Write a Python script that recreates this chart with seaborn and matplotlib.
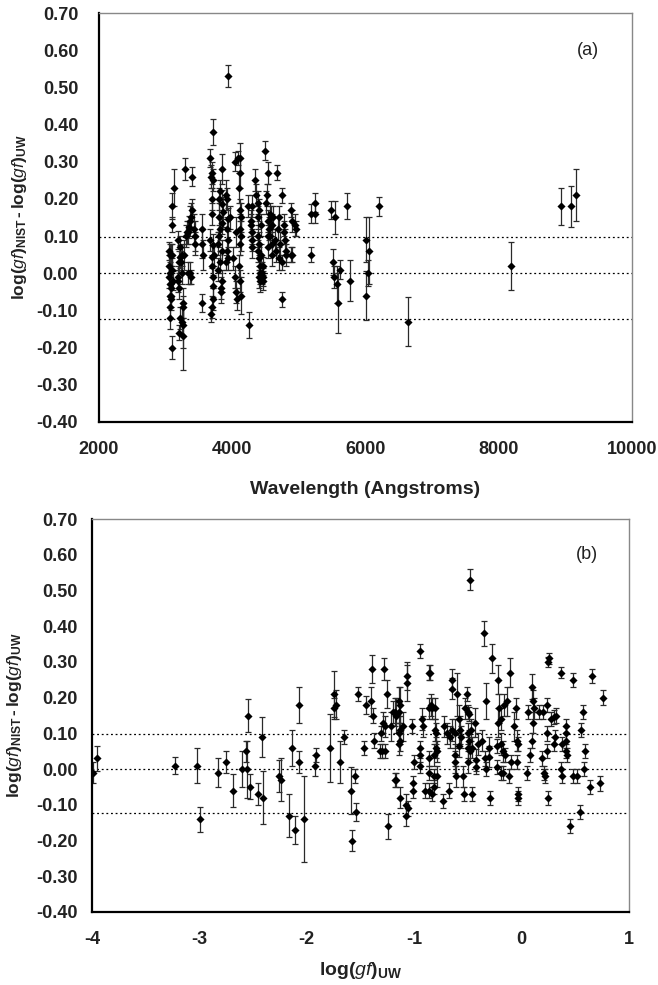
import matplotlib
matplotlib.use("Agg")
import matplotlib.pyplot as plt
import seaborn as sns
import numpy as np

# ---------------- data: panel (a) ----------------
wl_a = [
    3050, 3065, 3080, 3045, 3060, 3055, 3070, 3080, 3065, 3075, 3060, 3068, 3090, 3091, 3126, 3091, 3100, 3095, 3110, 3085,
    3190, 3215, 3210, 3200, 3190, 3185, 3205, 3266, 3216, 3240, 3255, 3200, 3265, 3250, 3270, 3230, 3240, 3295, 3255,
    3302, 3320, 3340, 3355, 3366, 3380, 3401, 3401, 3420, 3440, 3440, 3366, 3380, 3330,
    3542, 3550, 3557, 3542,
    3705, 3667, 3690, 3680, 3707, 3700, 3695, 3667, 3710, 3690, 3700, 3710, 3710, 3715, 3700, 3680, 3720,
    3842, 3800, 3842, 3860, 3800, 3842, 3810, 3790, 3842, 3810, 3790, 3842, 3825, 3830, 3820, 3800,
    3935, 3917, 3942, 3917, 3942, 3917, 3942, 3900, 3910, 3960,
    4010, 4042, 4080, 4117, 4110, 4100, 4120, 4125, 4115, 4130, 4120, 4045, 4050, 4070, 4125, 4110, 4100, 4060,
    4242, 4245, 4275, 4285, 4300, 4290, 4300, 4300, 4335, 4353, 4380, 4400, 4380, 4390, 4400, 4390, 4400, 4410, 4420, 4400,
    4415, 4460, 4465, 4455, 4430, 4445, 4435,
    4495, 4535, 4540, 4555, 4570, 4600, 4590, 4540, 4540, 4610, 4600, 4520, 4510, 4560, 4575,
    4665, 4640, 4655, 4750, 4745, 4715, 4700, 4770, 4780, 4795, 4810, 4800, 4750, 4875, 4900, 4885, 4900, 4940, 4950, 4680,
    4700,
    5185, 5235, 5245, 5185, 5475, 5540, 5720, 6200, 5510, 5520, 5570, 5590, 5620, 5765, 6000, 6060, 6045, 6015,
    6635, 8186, 8927, 9082, 9157,
]
diff_a = [
    0.06, 0.05, 0.05, 0.02, 0.00, -0.01, -0.03, -0.04, -0.06, -0.07, -0.09, -0.12, -0.20, 0.18, 0.23, 0.13, 0.05, 0.01, -0.02, -0.06,
    0.09, 0.07, 0.045, 0.03, -0.01, -0.02, -0.04, -0.08, -0.12, -0.13, -0.14, -0.16, -0.17, 0.05, 0.05, 0.03, 0.00, 0.28, -0.09,
    0.10, 0.11, 0.11, 0.125, 0.14, 0.15, 0.17, 0.26, 0.12, 0.10, 0.08, 0.00, -0.01, 0.00,
    0.12, 0.08, 0.05, -0.08,
    0.38, 0.31, 0.27, 0.26, 0.25, 0.20, 0.16, 0.09, 0.075, 0.045, 0.02, -0.01, -0.035, -0.07, -0.09, -0.11, 0.05,
    0.28, 0.20, 0.185, 0.165, 0.15, 0.135, 0.12, 0.08, 0.06, 0.03, 0.01, -0.02, -0.04, -0.05, 0.22, 0.10,
    0.53, 0.20, 0.145, 0.12, 0.09, 0.06, 0.04, 0.21, 0.03, 0.15,
    0.04, 0.30, 0.31, 0.31, 0.27, 0.23, 0.17, 0.15, 0.12, 0.10, 0.08, -0.01, -0.05, -0.07, -0.06, -0.02, 0.02, 0.11,
    0.18, -0.14, 0.14, 0.13, 0.11, 0.09, 0.07, 0.18, 0.25, 0.21, 0.19, 0.17, 0.15, 0.10, 0.08, 0.06, 0.04, 0.02, 0.00, -0.01,
    -0.02, 0.02, -0.01, -0.02, 0.05, 0.00, 0.13,
    0.33, 0.27, 0.14, 0.12, 0.10, 0.08, 0.05, 0.10, 0.07, 0.15, 0.13, 0.21, 0.19, 0.16, 0.15,
    0.27, 0.09, 0.06, 0.21, -0.07, 0.08, 0.04, 0.13, 0.11, 0.09, 0.06, 0.05, 0.03, 0.05, 0.05, 0.17, 0.14, 0.13, 0.12, 0.12,
    0.15,
    0.16, 0.19, 0.16, 0.05, 0.17, 0.15, 0.18, 0.18, 0.03, -0.01, -0.03, -0.08, 0.01, -0.02, 0.09, 0.06, 0.00, -0.06,
    -0.13, 0.02, 0.18, 0.18, 0.21,
]
err_a = [
    0.025, 0.03, 0.03, 0.03, 0.03, 0.03, 0.03, 0.025, 0.03, 0.03, 0.03, 0.03, 0.03, 0.035, 0.05, 0.02, 0.03, 0.03, 0.025, 0.03,
    0.025, 0.03, 0.03, 0.03, 0.03, 0.03, 0.03, 0.04, 0.03, 0.04, 0.06, 0.02, 0.09, 0.03, 0.04, 0.03, 0.03, 0.03, 0.03,
    0.03, 0.03, 0.03, 0.03, 0.04, 0.04, 0.03, 0.025, 0.04, 0.04, 0.03, 0.03, 0.02, 0.03,
    0.04, 0.04, 0.04, 0.025,
    0.035, 0.025, 0.03, 0.03, 0.03, 0.03, 0.03, 0.03, 0.03, 0.03, 0.03, 0.03, 0.03, 0.03, 0.03, 0.02, 0.03,
    0.04, 0.03, 0.04, 0.04, 0.04, 0.03, 0.03, 0.03, 0.03, 0.03, 0.03, 0.03, 0.03, 0.03, 0.03, 0.03,
    0.03, 0.03, 0.03, 0.03, 0.03, 0.03, 0.03, 0.04, 0.02, 0.03,
    0.03, 0.025, 0.02, 0.04, 0.04, 0.04, 0.03, 0.04, 0.04, 0.04, 0.03, 0.03, 0.03, 0.03, 0.05, 0.03, 0.03, 0.04,
    0.03, 0.035, 0.03, 0.03, 0.03, 0.03, 0.03, 0.03, 0.03, 0.03, 0.03, 0.03, 0.03, 0.03, 0.03, 0.03, 0.03, 0.03, 0.03, 0.03,
    0.03, 0.025, 0.025, 0.025, 0.03, 0.03, 0.03,
    0.025, 0.03, 0.03, 0.03, 0.03, 0.03, 0.03, 0.03, 0.03, 0.03, 0.03, 0.03, 0.03, 0.03, 0.03,
    0.02, 0.03, 0.03, 0.02, 0.02, 0.03, 0.03, 0.03, 0.03, 0.03, 0.03, 0.03, 0.02, 0.02, 0.02, 0.02, 0.03, 0.03, 0.02, 0.03,
    0.03,
    0.025, 0.025, 0.025, 0.02, 0.025, 0.045, 0.035, 0.025, 0.035, 0.03, 0.05, 0.08, 0.025, 0.055, 0.06, 0.09, 0.035, 0.065,
    0.065, 0.065, 0.05, 0.055, 0.07,
]

# ---------------- data: panel (b) ----------------
gf_b = [
    -3.99, -3.95, -3.23, -3.02, -2.99, -2.83, -2.75, -2.69, -2.60, -2.57, -2.56, -2.55, -2.53, -2.45, -2.42, -2.41, -2.26, -2.24, -2.17, -2.14,
    -2.11, -2.07, -2.07, -2.03, -1.92, -1.91, -1.78, -1.75, -1.75, -1.73, -1.69, -1.65, -1.59, -1.58, -1.55, -1.54, -1.52, -1.47, -1.45, -1.40,
    -1.39, -1.38, -1.37, -1.30, -1.31, -1.29, -1.28, -1.27, -1.27, -1.25, -1.24, -1.22, -1.18, -1.17, -1.17, -1.13, -1.13, -1.13, -1.13,
    -1.32, -1.20, -1.14, -1.14, -1.10, -1.07, -1.07, -1.14, -1.14, -1.18, -1.08, -1.08, -1.06, -1.02, -1.01, -1.01, -1.00, -0.95, -0.95, -0.95,
    -0.95, -0.93, -0.92, -0.86, -0.85, -0.86, -0.86, -0.86, -0.90, -0.86, -0.81, -0.80, -0.80, -0.79,
    -0.35, -0.28, -0.22, -0.335, -0.65, -0.65, -0.60, -0.51, -0.84, -0.81, -0.83, -0.72, -0.69, -0.67, -0.65, -0.62, -0.58, -0.57, -0.56, -0.53,
    -0.50, -0.49, -0.50, -0.49, -0.50, -0.48, -0.50, -0.47, -0.46, -0.43, -0.41, -0.37, -0.42, -0.42, -0.34, -0.33, -0.30, -0.30, -0.23, -0.23,
    -0.22, -0.21, -0.29, -0.73, -0.68, -0.54, -0.46, -0.82, -0.79, -0.82, -0.82, -0.83, -0.62, -0.62, -0.61, -0.55, -0.58, -0.48,
    -0.11, 0.245, 0.257, 0.37, 0.48, 0.66, 0.76, 0.096, 0.11, 0.12, 0.06, 0.16, 0.20, 0.11, 0.24, 0.27, 0.30, 0.32, 0.57, 0.55,
    0.41, 0.41, 0.41, 0.41, 0.42, 0.38, 0.31, 0.30, 0.24, 0.24, 0.10, 0.08, 0.19, 0.21, 0.215, 0.05, -0.05, -0.14, -0.165, -0.19,
    -0.07, -0.04, -0.03, -0.19, -0.17, -0.15, -0.17, -0.19, -0.12, -0.10, -0.04, -0.03, -0.035, 0.25, 0.37, 0.38, 0.48, 0.52, 0.58, 0.59,
    0.64, 0.73, 0.54, 0.45,
]
diff_b = [
    -0.01, 0.03, 0.01, 0.01, -0.14, -0.01, 0.02, -0.06, 0.00, 0.05, 0.00, 0.15, -0.05, -0.07, 0.09, -0.08, -0.02, -0.03, -0.13, 0.06,
    -0.17, 0.02, 0.18, -0.14, 0.01, 0.04, 0.06, 0.21, 0.17, 0.18, 0.02, 0.09, -0.06, -0.20, -0.02, -0.12, 0.21, 0.06, 0.18, 0.19,
    0.28, 0.15, 0.08, 0.05, 0.10, 0.13, 0.28, 0.12, 0.05, 0.21, -0.16, 0.12, 0.16, 0.15, -0.03, 0.18, 0.11, 0.08, -0.08,
    0.05, 0.16, 0.19, 0.16, 0.12, 0.26, 0.24, 0.10, 0.07, -0.03, -0.10, -0.13, -0.11, 0.12, -0.04, -0.06, 0.02, 0.33, 0.06, 0.04,
    0.01, 0.14, 0.12, 0.27, 0.27, 0.17, 0.03, -0.06, -0.06, -0.01, 0.17, 0.10, 0.06, -0.02,
    0.38, 0.31, 0.25, 0.19, 0.25, 0.225, 0.21, 0.21, 0.18, 0.11, 0.17, 0.12, 0.10, 0.09, 0.11, 0.10, 0.14, 0.11, 0.09, 0.17,
    0.16, 0.155, 0.10, 0.08, 0.06, 0.05, 0.02, 0.11, 0.06, 0.13, 0.07, 0.08, 0.025, 0.005, 0.03, 0.00, 0.06, 0.035, 0.065, 0.005,
    0.13, 0.17, -0.08, -0.09, -0.06, -0.07, -0.07, 0.04, 0.05, -0.02, -0.05, -0.07, 0.04, 0.02, -0.02, -0.02, 0.065, 0.53,
    0.27, 0.30, 0.31, 0.27, 0.25, 0.26, 0.20, 0.23, 0.19, 0.17, 0.16, 0.16, 0.16, 0.13, 0.18, 0.14, 0.145, 0.15, 0.16, 0.11,
    0.12, 0.10, 0.08, 0.05, 0.04, 0.07, 0.09, 0.07, 0.10, 0.05, 0.08, 0.04, 0.03, -0.01, -0.02, -0.01, 0.17, 0.19, 0.18, 0.14,
    0.12, 0.08, 0.07, 0.07, 0.05, 0.04, -0.01, -0.01, -0.02, 0.02, 0.02, -0.07, -0.08, -0.08, 0.00, -0.02, -0.02, -0.02, 0.00, 0.05,
    -0.05, -0.04, -0.12, -0.16,
]
err_b = [
    0.03, 0.035, 0.025, 0.05, 0.035, 0.04, 0.03, 0.045, 0.05, 0.03, 0.08, 0.045, 0.035, 0.03, 0.055, 0.075, 0.045, 0.06, 0.06, 0.05,
    0.04, 0.03, 0.05, 0.12, 0.03, 0.02, 0.095, 0.065, 0.03, 0.04, 0.06, 0.02, 0.065, 0.03, 0.02, 0.025, 0.02, 0.02, 0.025, 0.04,
    0.04, 0.02, 0.02, 0.02, 0.02, 0.03, 0.03, 0.03, 0.02, 0.04, 0.035, 0.04, 0.04, 0.05, 0.02, 0.05, 0.04, 0.03, 0.03,
    0.02, 0.03, 0.04, 0.03, 0.04, 0.04, 0.05, 0.03, 0.03, 0.02, 0.03, 0.03, 0.02, 0.02, 0.02, 0.02, 0.02, 0.02, 0.02, 0.02,
    0.02, 0.03, 0.03, 0.02, 0.02, 0.03, 0.02, 0.02, 0.02, 0.02, 0.03, 0.03, 0.03, 0.03,
    0.035, 0.04, 0.04, 0.05, 0.03, 0.03, 0.06, 0.02, 0.03, 0.03, 0.03, 0.03, 0.03, 0.03, 0.03, 0.04, 0.04, 0.04, 0.03, 0.03,
    0.02, 0.02, 0.03, 0.03, 0.03, 0.03, 0.03, 0.03, 0.03, 0.04, 0.03, 0.03, 0.03, 0.02, 0.02, 0.02, 0.03, 0.03, 0.02, 0.02,
    0.04, 0.04, 0.02, 0.02, 0.02, 0.02, 0.02, 0.03, 0.03, 0.02, 0.02, 0.02, 0.03, 0.03, 0.03, 0.03, 0.03, 0.03,
    0.04, 0.015, 0.015, 0.015, 0.02, 0.02, 0.02, 0.035, 0.03, 0.03, 0.02, 0.02, 0.02, 0.03, 0.02, 0.02, 0.02, 0.02, 0.02, 0.02,
    0.02, 0.02, 0.02, 0.02, 0.02, 0.02, 0.02, 0.02, 0.02, 0.02, 0.02, 0.02, 0.02, 0.02, 0.02, 0.02, 0.03, 0.04, 0.03, 0.03,
    0.04, 0.03, 0.02, 0.03, 0.03, 0.02, 0.02, 0.02, 0.02, 0.02, 0.02, 0.02, 0.02, 0.02, 0.02, 0.02, 0.02, 0.02, 0.02, 0.02,
    0.02, 0.02, 0.02, 0.02,
]

ref_lines = [0.097, 0.0, -0.124]
yticks = [0.70, 0.60, 0.50, 0.40, 0.30, 0.20, 0.10, 0.00, -0.10, -0.20, -0.30, -0.40]
xticks_a = [2000, 4000, 6000, 8000, 10000]
xticks_b = [-4, -3, -2, -1, 0, 1]

assert len(wl_a) == len(diff_a) == len(err_a), (len(wl_a), len(diff_a), len(err_a))
assert len(gf_b) == len(diff_b) == len(err_b), (len(gf_b), len(diff_b), len(err_b))

# ---------------- styling ----------------
sns.set_style("white")
plt.rcParams["font.family"] = ["Liberation Sans", "DejaVu Sans"]
plt.rcParams["mathtext.fontset"] = "custom"
plt.rcParams["mathtext.rm"] = "Liberation Sans"
plt.rcParams["mathtext.bf"] = "Liberation Sans:bold"
plt.rcParams["mathtext.it"] = "Liberation Sans:italic"

W, H = 658, 985
fig = plt.figure(figsize=(W / 100, H / 100), dpi=100)
ax_a = fig.add_axes([99 / W, 1 - 422 / H, (632 - 99) / W, (422 - 13) / H])
ax_b = fig.add_axes([92 / W, 1 - 912 / H, (629 - 92) / W, (912 - 519) / H])

ylab = (r"$\mathbf{log(}\mathit{gf}\mathbf{)}_{\mathbf{NIST}}\mathbf{\,"
        + "\u2010"
        + r"\,log(}\mathit{gf}\mathbf{)}_{\mathbf{UW}}$")


def draw(ax, x, y, e, xlim, xticks, xlabel, tag, tagx, ypad, xlabelpad, ylabelx):
    ax.errorbar(x, y, yerr=e, fmt="none", ecolor="#2a2a2a", elinewidth=0.9,
                capsize=2.4, capthick=0.9, zorder=2)
    sns.scatterplot(x=x, y=y, marker="D", s=17, color="black", edgecolor="black",
                    linewidth=0, ax=ax, zorder=3, legend=False)
    for r in ref_lines:
        ax.axhline(r, color="black", lw=0.9, ls=(0, (1.5, 2.2)), zorder=1)
    ax.set_xlim(*xlim)
    ax.set_ylim(-0.40, 0.70)
    ax.set_yticks(yticks)
    ax.set_yticklabels([f"{v:.2f}" for v in yticks])
    ax.set_xticks(xticks)
    ax.set_xticklabels([str(v) for v in xticks])
    for lbl in ax.get_xticklabels() + ax.get_yticklabels():
        lbl.set_fontweight("bold")
        lbl.set_fontsize(13)
        lbl.set_color("#222222")
    ax.tick_params(axis="both", direction="in", length=4, width=1.2, color="black")
    ax.tick_params(axis="x", pad=14)
    ax.tick_params(axis="y", pad=ypad)
    for s in ["left", "bottom"]:
        ax.spines[s].set_color("black")
        ax.spines[s].set_linewidth(1.6)
    for s in ["top", "right"]:
        ax.spines[s].set_color("#888888")
        ax.spines[s].set_linewidth(1.0)
    ax.set_xlabel(xlabel, fontsize=14, fontweight="bold", color="#222222", labelpad=xlabelpad)
    ax.set_ylabel(ylab, fontsize=12.5, color="#222222")
    ax.yaxis.set_label_coords(ylabelx, 0.5)
    ax.text(tagx, 0.60, tag, fontsize=13, color="#222222", ha="center", va="center")


draw(ax_a, wl_a, diff_a, err_a, (2000, 10000), xticks_a, "Wavelength (Angstroms)", "(a)", 9340,
     15, 16, -(99 - 29) / 533)
draw(ax_b, gf_b, diff_b, err_b, (-4, 1), xticks_b,
     r"$\mathbf{log(}\mathit{gf}\mathbf{)}_{\mathbf{UW}}$", "(b)", 0.61,
     10, 8, -(92 - 24) / 537)

fig.savefig("out.png", dpi=100)
